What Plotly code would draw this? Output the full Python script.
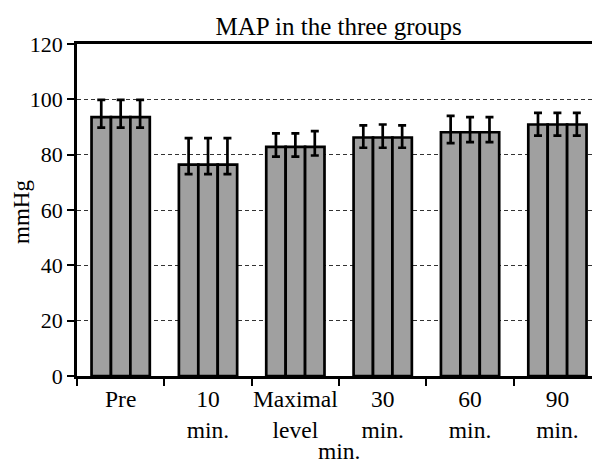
import plotly.graph_objects as go

categories = ["Pre", "10<br>min.", "Maximal<br>level", "30<br>min.", "60<br>min.", "90<br>min."]
series_names = ["Group 1", "Group 2", "Group 3"]

mean_g1 = [93.6, 76.4, 82.8, 86.2, 88.1, 90.9]
mean_g2 = [93.6, 76.4, 82.8, 86.2, 88.1, 90.9]
mean_g3 = [93.6, 76.4, 82.8, 86.2, 88.1, 90.9]

upper_g1 = [99.8, 86.0, 87.7, 90.6, 94.0, 95.1]
upper_g2 = [99.8, 86.0, 87.7, 90.9, 93.6, 95.1]
upper_g3 = [99.8, 86.0, 88.5, 90.6, 93.6, 95.1]

lower_g1 = [89.8, 73.0, 79.3, 82.5, 84.2, 86.9]
lower_g2 = [89.8, 73.0, 79.3, 82.5, 84.5, 86.9]
lower_g3 = [89.8, 73.0, 79.7, 82.5, 84.5, 86.9]

y_ticks = [0, 20, 40, 60, 80, 100, 120]

FONT = "Liberation Serif, Times New Roman, serif"

fig = go.Figure()
for name, m, up, lo in [
    (series_names[0], mean_g1, upper_g1, lower_g1),
    (series_names[1], mean_g2, upper_g2, lower_g2),
    (series_names[2], mean_g3, upper_g3, lower_g3),
]:
    fig.add_trace(go.Bar(
        x=categories, y=m, name=name,
        marker=dict(color="#a0a0a0", line=dict(color="black", width=2.7)),
        error_y=dict(
            type="data", symmetric=False,
            array=[u - v for u, v in zip(up, m)],
            arrayminus=[v - l for v, l in zip(m, lo)],
            color="black", thickness=2.7, width=4,
        ),
    ))

fig.update_layout(
    width=592, height=463,
    margin=dict(l=77, r=0, t=44, b=87),
    paper_bgcolor="white", plot_bgcolor="white",
    barmode="group", bargap=0.333, bargroupgap=0,
    showlegend=False,
    font=dict(family=FONT, size=22, color="black"),
    title=dict(text="MAP in the three groups", x=0.572, xref="container", xanchor="center",
               y=1 - 26 / 463, yref="container", yanchor="middle",
               font=dict(family=FONT, size=25, color="black")),
)

fig.update_xaxes(
    type="category", range=[-0.5, 5.396],
    showline=True, linecolor="black", linewidth=2.7, mirror=True,
    ticks="outside", tickson="boundaries", ticklen=7, tickwidth=2.2, tickcolor="black",
    tickangle=0, automargin=False,
    showgrid=False, tickfont=dict(family=FONT, size=23.5, color="black"),
)
fig.update_yaxes(
    range=[0, 120], tickvals=y_ticks,
    showline=True, linecolor="black", linewidth=2.7,
    ticks="outside", ticklen=7, tickwidth=2.2, tickcolor="black",
    automargin=False,
    showgrid=True, gridcolor="#333333", gridwidth=1, griddash="4px,3px",
    zeroline=False, tickfont=dict(family=FONT, size=22, color="black"),
)

fig.add_annotation(text="mmHg", xref="paper", yref="paper", x=(21 - 77) / 515, y=(376 - 212) / 332,
                   textangle=-90, showarrow=False, xanchor="center", yanchor="middle",
                   font=dict(family=FONT, size=23, color="black"))
fig.add_annotation(text="min.", xref="paper", yref="paper", x=(339 - 77) / 515, y=-(451 - 376) / 332,
                   showarrow=False, xanchor="center", yanchor="middle",
                   font=dict(family=FONT, size=23.5, color="black"))

fig.write_html("out.html", config={"displayModeBar": False},
               post_script="document.body.style.margin='0';document.body.style.overflow='hidden';")
